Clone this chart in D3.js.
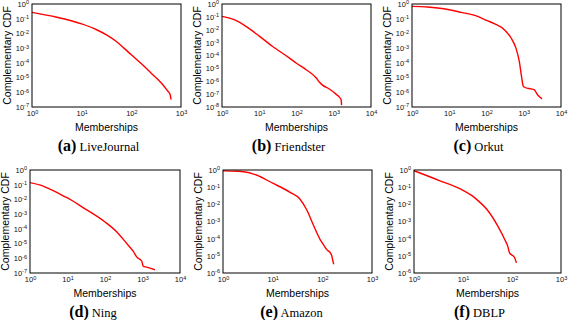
<!DOCTYPE html>
<html><head><meta charset="utf-8">
<script src="https://cdn.jsdelivr.net/npm/d3@7"></script>
<style>body{margin:0;background:#fff}svg{display:block}</style>
</head><body>
<svg id="chart" width="568" height="320"></svg>
<script>
// ---- data ----
const panelLetters = ["a", "b", "c", "d", "e", "f"];
const panelNames = ["LiveJournal", "Friendster", "Orkut", "Ning", "Amazon", "DBLP"];
const xMaxExp = [3, 4, 4, 4, 3, 3];
const yMinExp = [-7, -8, -7, -7, -6, -6];
const xLabel = "Memberships";
const yLabel = "Complementary CDF";

const liveJournalX = [1, 3.16, 10, 20, 31.6, 50, 71, 100, 158, 251, 398, 537, 603, 631];
const liveJournalY = [0.27, 0.126, 0.044, 0.0178, 0.0079, 0.0028, 0.001, 3.5e-4, 8.9e-5, 2e-5, 4.5e-6, 1.26e-6, 7.1e-7, 3.2e-7];

const friendsterX = [1, 1.6, 2.5, 4, 6.3, 10, 23, 65, 100, 182, 340, 420, 500, 760, 1150, 1480, 1580, 1620];
const friendsterY = [0.11, 0.079, 0.048, 0.022, 0.0089, 0.0032, 5e-4, 6.3e-5, 2.5e-5, 7.9e-6, 1.8e-6, 7.9e-7, 5e-7, 2.5e-7, 1e-7, 5e-8, 3.5e-8, 1.4e-8];

const orkutX = [1, 2.6, 4.9, 10, 21, 58, 100, 162, 300, 457, 617, 760, 870, 975, 1050, 1550, 1900, 2340, 3100];
const orkutY = [0.69, 0.63, 0.54, 0.41, 0.27, 0.145, 0.078, 0.046, 0.018, 0.0049, 0.001, 1.26e-4, 1.2e-5, 2.5e-6, 2.2e-6, 1.7e-6, 1.5e-6, 6.8e-7, 3.6e-7];

const ningX = [1, 1.9, 3.4, 6.3, 10, 26, 100, 204, 380, 575, 690, 955, 1050, 1290, 2140];
const ningY = [0.14, 0.093, 0.05, 0.023, 0.0126, 0.0028, 2.95e-4, 6.3e-5, 1e-5, 2.8e-6, 1.3e-6, 6.3e-7, 2.8e-7, 2.5e-7, 1.66e-7];

const amazonX = [1, 2, 2.8, 4, 4.7, 10, 22, 35, 49, 66, 91, 105, 123, 145, 155, 166, 170];
const amazonY = [0.89, 0.85, 0.76, 0.6, 0.51, 0.17, 0.052, 0.021, 0.0045, 6.3e-4, 8.5e-5, 4.5e-5, 2.3e-5, 1.5e-5, 1e-5, 4e-6, 3.2e-6];

const dblpX = [1, 3.1, 10, 15, 20, 32, 51, 71, 83, 89, 112, 123];
const dblpY = [0.91, 0.26, 0.066, 0.033, 0.017, 0.0044, 5.6e-4, 9e-5, 3.2e-5, 1.5e-5, 8.3e-6, 3.9e-6];

const seriesX = [liveJournalX, friendsterX, orkutX, ningX, amazonX, dblpX];
const seriesY = [liveJournalY, friendsterY, orkutY, ningY, amazonY, dblpY];

// ---- layout ----
const boxes = [
  {x0: 32, x1: 181, y0: 4, y1: 107, cap: -8},
  {x0: 222, x1: 371, y0: 4, y1: 107, cap: -8},
  {x0: 412, x1: 561, y0: 4, y1: 107, cap: -8},
  {x0: 30, x1: 180, y0: 170, y1: 273, cap: -12},
  {x0: 223, x1: 372, y0: 170, y1: 273, cap: -6},
  {x0: 414, x1: 561, y0: 170, y1: 273, cap: -8}
];

const svg = d3.select("#chart");
const sans = "'Liberation Sans', Arial, Helvetica, sans-serif";
const serif = "'Liberation Serif', 'Times New Roman', serif";

function powLabel(sel) {
  sel.each(function(d) {
    const t = d3.select(this);
    const e = Math.round(Math.log10(d));
    t.text(null);
    t.append("tspan").text("10");
    t.append("tspan").attr("dy", "-0.45em").attr("font-size", "5.5px").text(String(e));
  });
}

boxes.forEach((b, i) => {
  const xs = d3.scaleLog().domain([1, Math.pow(10, xMaxExp[i])]).range([b.x0, b.x1]);
  const ys = d3.scaleLog().domain([Math.pow(10, yMinExp[i]), 1]).range([b.y1, b.y0]);
  const g = svg.append("g");

  const xt = d3.range(0, xMaxExp[i] + 1).map(e => Math.pow(10, e));
  const yt = d3.range(yMinExp[i], 1).map(e => Math.pow(10, e));

  const ax = g.append("g").attr("transform", `translate(0,${b.y1})`)
    .call(d3.axisBottom(xs).tickValues(xt).tickSize(0).tickPadding(4));
  ax.select(".domain").remove();
  ax.selectAll("text").attr("font-family", sans).attr("font-size", "7.5px").attr("fill", "#111")
    .call(powLabel);

  const ay = g.append("g").attr("transform", `translate(${b.x0},0)`)
    .call(d3.axisLeft(ys).tickValues(yt).tickSize(0).tickPadding(3));
  ay.select(".domain").remove();
  ay.selectAll("text").attr("font-family", sans).attr("font-size", "7.5px").attr("fill", "#111")
    .call(powLabel);

  const pts = seriesX[i].map((x, k) => [x, seriesY[i][k]]);
  g.append("path")
    .datum(pts)
    .attr("fill", "none")
    .attr("stroke", "#ff0000")
    .attr("stroke-width", 1.4)
    .attr("stroke-linejoin", "round")
    .attr("d", d3.line().x(d => xs(d[0])).y(d => ys(d[1])).curve(d3.curveMonotoneX));

  g.append("rect")
    .attr("x", b.x0).attr("y", b.y0)
    .attr("width", b.x1 - b.x0).attr("height", b.y1 - b.y0)
    .attr("fill", "none").attr("stroke", "#000").attr("stroke-width", 1);

  // axis labels
  g.append("text")
    .attr("x", (b.x0 + b.x1) / 2).attr("y", b.y1 + 24)
    .attr("text-anchor", "middle")
    .attr("font-family", sans).attr("font-size", "10.5px")
    .text(xLabel);

  g.append("text")
    .attr("transform", `translate(${b.x0 - 21},${(b.y0 + b.y1) / 2}) rotate(-90)`)
    .attr("text-anchor", "middle")
    .attr("font-family", sans).attr("font-size", "10.5px")
    .text(yLabel);

  // caption
  const cap = g.append("text")
    .attr("x", (b.x0 + b.x1) / 2 + b.cap).attr("y", b.y1 + 44)
    .attr("text-anchor", "middle")
    .attr("font-family", serif);
  cap.append("tspan").attr("font-weight", "bold").attr("font-size", "16px").text("(" + panelLetters[i] + ")");
  cap.append("tspan").attr("font-size", "12.5px").text(" " + panelNames[i]);
});
</script>
</body></html>
